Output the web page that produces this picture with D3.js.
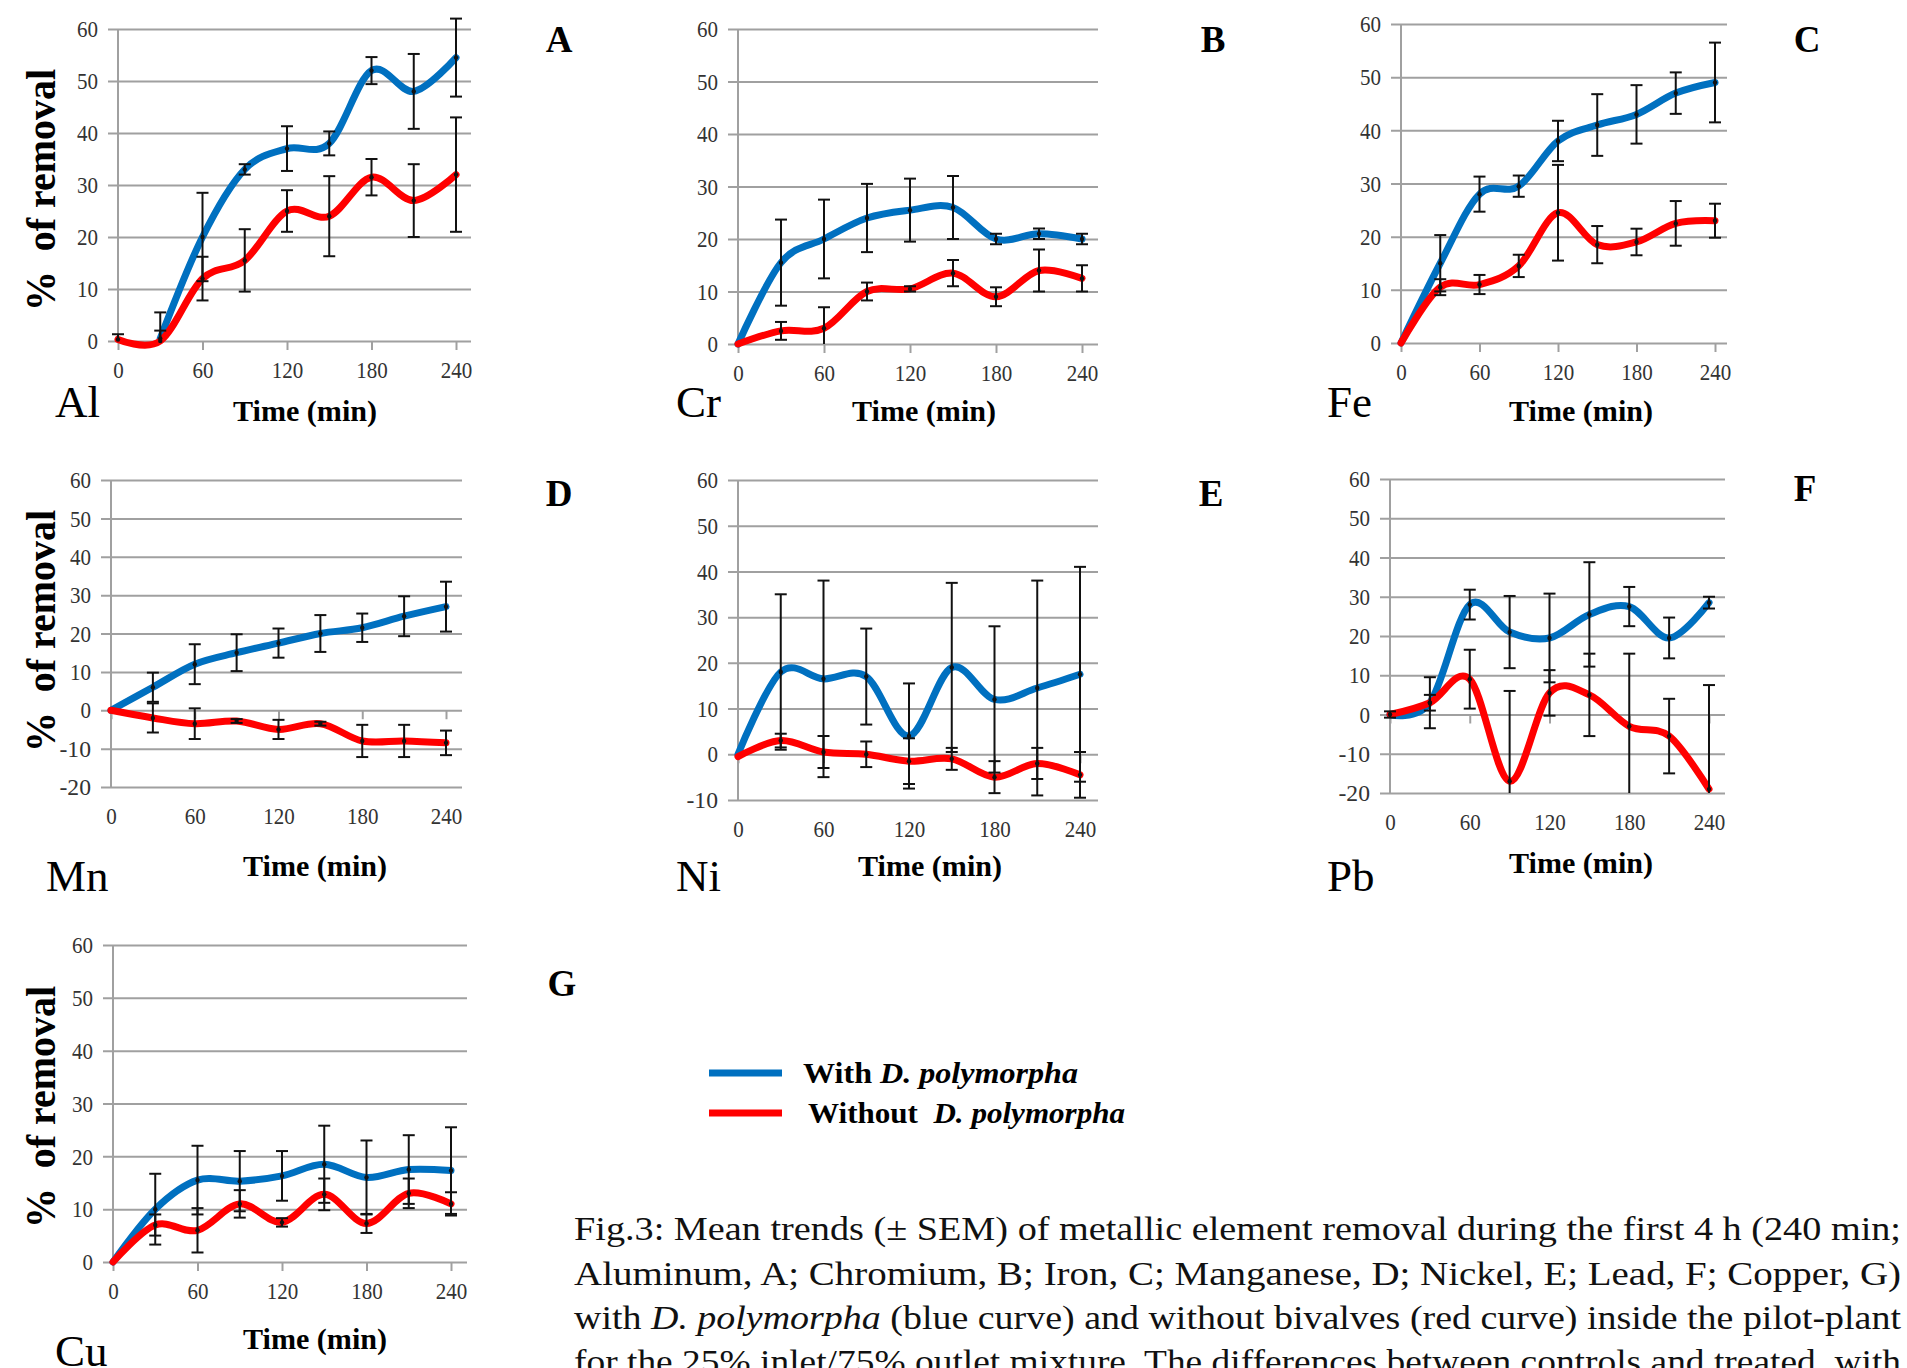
<!DOCTYPE html>
<html><head><meta charset="utf-8">
<script src="https://cdn.jsdelivr.net/npm/d3@7"></script>
<style>body{margin:0;background:#fff;} svg{display:block;}</style>
</head><body>
<svg id="chart" width="1907" height="1368"></svg>
<script>
// ---------------- DATA ----------------
const times = [0, 30, 60, 90, 120, 150, 180, 210, 240];
const xTickValues = [0, 60, 120, 180, 240];
const elements = ["Al", "Cr", "Fe", "Mn", "Ni", "Pb", "Cu"];
const panelLetters = ["A", "B", "C", "D", "E", "F", "G"];
const yDomains = [[0, 60], [0, 60], [0, 60], [-20, 60], [-10, 60], [-20, 60], [0, 60]];
const seriesNames = ["With", "Without"];

const alWith       = [null, 0.5, 20, 33, 37, 38, 52, 48, 54.5];
const alWithErr    = [null, 5, 8.5, 1, 4.3, 2.3, 2.6, 7.2, 7.5];
const alWithout    = [0.3, 0, 12, 15.5, 25, 24, 31.5, 27, 32];
const alWithoutErr = [1, 2, 4.2, 6, 4, 7.7, 3.5, 7, 11];

const crWith       = [0, 15.5, 20, 24, 25.5, 26, 20, 21, 20];
const crWithErr    = [0, 8.2, 7.5, 6.5, 6, 6, 1, 1, 1];
const crWithout    = [0, 2.5, 3, 10, 10.5, 13.5, 9, 14, 12.5];
const crWithoutErr = [0, 1.7, 4, 1.7, 0.5, 2.5, 1.8, 4, 2.5];

const feWith       = [0, 15, 28, 29.5, 38, 41, 43, 47, 49];
const feWithErr    = [0, 5.3, 3.3, 2, 3.8, 5.8, 5.5, 3.9, 7.5];
const feWithout    = [0, 10.5, 11, 14.5, 24.5, 18.5, 19, 22.5, 23];
const feWithoutErr = [0, 1.5, 1.8, 2.1, 9, 3.5, 2.5, 4.2, 3.2];

const mnWith       = [0, 6, 12, 15, 17.5, 20, 21.5, 24.5, 27];
const mnWithErr    = [0, 3.8, 5.2, 4.8, 3.8, 4.8, 3.7, 5.2, 6.5];
const mnWithout    = [0, -2, -3.5, -2.8, -5, -3.5, -8, -8, -8.5];
const mnWithoutErr = [0, 3.8, 4, 0.5, 2.5, 0.5, 4.2, 4.2, 3.2];

const niWith       = [0, 18, 16.5, 17, 4, 19, 12, 14.5, 17.5];
const niWithErr    = [0, 17, 21.5, 10.5, 11.5, 18.5, 16, 23.5, 23.5];
const niWithout    = [-0.5, 3, 0.5, 0, -1.5, -1, -5, -2, -4.5];
const niWithoutErr = [0, 1.5, 3.5, 2.8, 5, 2.4, 3.5, 3.4, 5];

const pbWith       = [0, 3, 28, 21, 19.5, 25.5, 27.5, 19.5, 28.5];
const pbWithErr    = [0, 6.5, 3.8, 9.2, 11.3, 13.3, 5, 5.2, 1.5];
const pbWithout    = [0, 3, 9, -17, 5.5, 5, -3, -5.5, -19];
const pbWithoutErr = [0.8, 2, 7.5, 23, 5.8, 10.5, 18.5, 9.5, 26.5];

const cuWith       = [0, 10, 15.5, 15.3, 16.3, 18.5, 16, 17.5, 17.3];
const cuWithErr    = [0, 6.7, 6.5, 5.7, 4.7, 7.3, 7, 6.5, 8.2];
const cuWithout    = [0, 7, 6, 11, 7.5, 12.8, 7.3, 13, 11];
const cuWithoutErr = [0, 2, 4.2, 2.6, 0.8, 3, 1.8, 2.8, 2.2];

const legendLabels = ["With ", "Without  "];
const legendItalic = "D. polymorpha";
const captionLines = [
  [["Fig.3: Mean trends (± SEM) of metallic element removal during the first 4 h (240 min;", false]],
  [["Aluminum, A; Chromium, B; Iron, C; Manganese, D; Nickel, E; Lead, F; Copper, G)", false]],
  [["with ", false], ["D. polymorpha", true], [" (blue curve) and without bivalves (red curve) inside the pilot-plant", false]],
  [["for the 25% inlet/75% outlet mixture. The differences between controls and treated, with", false]]
];

// ---------------- LAYOUT / STYLE ----------------
const withSeries = [alWith, crWith, feWith, mnWith, niWith, pbWith, cuWith];
const withErrs = [alWithErr, crWithErr, feWithErr, mnWithErr, niWithErr, pbWithErr, cuWithErr];
const withoutSeries = [alWithout, crWithout, feWithout, mnWithout, niWithout, pbWithout, cuWithout];
const withoutErrs = [alWithoutErr, crWithoutErr, feWithoutErr, mnWithoutErr, niWithoutErr, pbWithoutErr, cuWithoutErr];

const layout = [
  {x0:118, x1:456, yTop:29, yBot:341, gR:471, eX:55, eY:417, lX:559, lY:52, tX:305, tY:421, yl:190},
  {x0:738, x1:1082, yTop:29, yBot:344, gR:1098, eX:676, eY:417, lX:1213, lY:52, tX:924, tY:421},
  {x0:1401, x1:1715, yTop:24, yBot:343, gR:1727, eX:1327, eY:417, lX:1807, lY:52, tX:1581, tY:421},
  {x0:111, x1:446, yTop:480, yBot:787, gR:462, eX:46, eY:891, lX:559, lY:506, tX:315, tY:876, yl:631},
  {x0:738, x1:1080, yTop:480, yBot:800, gR:1098, eX:676, eY:891, lX:1211, lY:506, tX:930, tY:876},
  {x0:1390, x1:1709, yTop:479, yBot:793, gR:1725, eX:1327, eY:891, lX:1805, lY:501, tX:1581, tY:873},
  {x0:113, x1:451, yTop:945, yBot:1262, gR:467, eX:55, eY:1366, lX:562, lY:996, tX:315, tY:1349, yl:1107}
];
const colors = {With: "#0070C0", Without: "#FF0000"};
const serif = "Liberation Serif, serif";
const gridColor = "#a0a0a0";

const svg = d3.select("#chart");

elements.forEach((el, i) => {
  const L = layout[i];
  const dom = yDomains[i];
  const x = d3.scaleLinear().domain([0, 240]).range([L.x0, L.x1]);
  const y = d3.scaleLinear().domain(dom).range([L.yBot, L.yTop]);
  const g = svg.append("g").attr("class", "panel-" + el);

  // y gridlines + labels
  const yTicks = d3.range(dom[0], dom[1] + 1, 10);
  const yAx = g.append("g").attr("transform", `translate(${L.x0 - 10},0)`)
    .call(d3.axisLeft(y).tickValues(yTicks).tickSize(-(L.gR - L.x0 + 10)).tickSizeOuter(0)
      .tickPadding(10).tickFormat(d => String(d)));
  yAx.attr("font-family", serif);
  yAx.select(".domain").remove();
  yAx.selectAll("line").attr("stroke", gridColor).attr("stroke-width", 2);
  yAx.selectAll("text").attr("font-family", serif).attr("font-size", 24).attr("fill", "#333")
    .attr("textLength", d => String(d).length * 10.5).attr("lengthAdjust", "spacingAndGlyphs");

  // vertical axis line
  g.append("line").attr("x1", x(0)).attr("x2", x(0)).attr("y1", L.yTop).attr("y2", L.yBot)
    .attr("stroke", gridColor).attr("stroke-width", 2);

  // x tick marks at zero line
  const xAxT = g.append("g").attr("transform", `translate(0,${y(0)})`)
    .call(d3.axisBottom(x).tickValues(xTickValues).tickSize(9).tickSizeOuter(0).tickFormat(""));
  xAxT.select(".domain").remove();
  xAxT.selectAll("line").attr("stroke", gridColor).attr("stroke-width", 2);

  // x labels at the bottom
  const xAxL = g.append("g").attr("transform", `translate(0,${L.yBot})`)
    .call(d3.axisBottom(x).tickValues(xTickValues).tickSize(0).tickPadding(20).tickFormat(d => String(d)));
  xAxL.attr("font-family", serif);
  xAxL.select(".domain").remove();
  xAxL.selectAll("text").attr("font-family", serif).attr("font-size", 24).attr("fill", "#333")
    .attr("textLength", d => String(d).length * 10.5).attr("lengthAdjust", "spacingAndGlyphs");

  // lines
  const mk = (vals, errs) => times.map((t, k) => ({t, v: vals[k], e: errs[k]}));
  const line = d3.line().defined(d => d.v != null).x(d => x(d.t)).y(d => y(d.v))
    .curve(d3.curveCardinal.tension(0));
  const sets = [
    {name: "With", data: mk(withSeries[i], withErrs[i])},
    {name: "Without", data: mk(withoutSeries[i], withoutErrs[i])}
  ];
  sets.forEach(s => {
    g.append("path").datum(s.data).attr("d", line).attr("fill", "none")
      .attr("stroke", colors[s.name]).attr("stroke-width", 7)
      .attr("stroke-linecap", "round").attr("stroke-linejoin", "round");
  });
  // error bars
  sets.forEach(s => {
    s.data.filter(d => d.v != null && d.e > 0).forEach(d => {
      const loV = d.v - d.e, hiV = d.v + d.e;
      const lo = Math.max(loV, dom[0]);
      const cx = x(d.t);
      g.append("line").attr("x1", cx).attr("x2", cx).attr("y1", y(lo)).attr("y2", y(hiV))
        .attr("stroke", "#111").attr("stroke-width", 2);
      g.append("line").attr("x1", cx - 6).attr("x2", cx + 6).attr("y1", y(hiV)).attr("y2", y(hiV))
        .attr("stroke", "#111").attr("stroke-width", 2);
      if (loV >= dom[0]) {
        g.append("line").attr("x1", cx - 6).attr("x2", cx + 6).attr("y1", y(loV)).attr("y2", y(loV))
          .attr("stroke", "#111").attr("stroke-width", 2);
      }
      g.append("circle").attr("cx", cx).attr("cy", y(d.v)).attr("r", 2.2).attr("fill", "#111");
    });
  });

  // axis title
  g.append("text").attr("x", L.tX).attr("y", L.tY).attr("text-anchor", "middle")
    .attr("font-family", serif).attr("font-weight", "bold").attr("font-size", 30)
    .attr("textLength", 144).attr("lengthAdjust", "spacingAndGlyphs").text("Time (min)");
  // element label
  g.append("text").attr("x", L.eX).attr("y", L.eY).attr("font-family", serif)
    .attr("font-size", 45).text(el);
  // panel letter
  g.append("text").attr("x", L.lX).attr("y", L.lY).attr("text-anchor", "middle")
    .attr("font-family", serif).attr("font-weight", "bold").attr("font-size", 37).text(panelLetters[i]);
  // y title
  if (L.yl) {
    g.append("text").attr("transform", `translate(55,${L.yl}) rotate(-90)`).attr("text-anchor", "middle")
      .attr("font-family", serif).attr("font-weight", "bold").attr("font-size", 42)
      .attr("textLength", 242).attr("lengthAdjust", "spacingAndGlyphs")
      .style("white-space", "pre").text("%  of removal");
  }
});

// legend
const legend = svg.append("g");
const legendY = [1073, 1113];
const legendTextX = [803, 808];
const legendWidths = [275, 317];
seriesNames.forEach((s, k) => {
  legend.append("line").attr("x1", 709).attr("x2", 782).attr("y1", legendY[k]).attr("y2", legendY[k])
    .attr("stroke", colors[s]).attr("stroke-width", 7);
  const t = legend.append("text").attr("x", legendTextX[k]).attr("y", legendY[k] + 10)
    .attr("font-family", serif).attr("font-weight", "bold").attr("font-size", 29)
    .attr("textLength", legendWidths[k]).attr("lengthAdjust", "spacingAndGlyphs")
    .style("white-space", "pre");
  t.append("tspan").text(legendLabels[s === "With" ? 0 : 1]);
  t.append("tspan").attr("font-style", "italic").text(legendItalic);
});

// caption
const capBase = [1240, 1285, 1329, 1373];
const cap = svg.append("g");
captionLines.forEach((parts, k) => {
  const t = cap.append("text").attr("x", 574).attr("y", capBase[k])
    .attr("font-family", serif).attr("font-size", 34).attr("fill", "#111")
    .attr("textLength", 1327).attr("lengthAdjust", "spacingAndGlyphs").style("white-space", "pre");
  parts.forEach(([txt, it]) => {
    const sp = t.append("tspan").text(txt);
    if (it) sp.attr("font-style", "italic");
  });
});
</script>
</body></html>
